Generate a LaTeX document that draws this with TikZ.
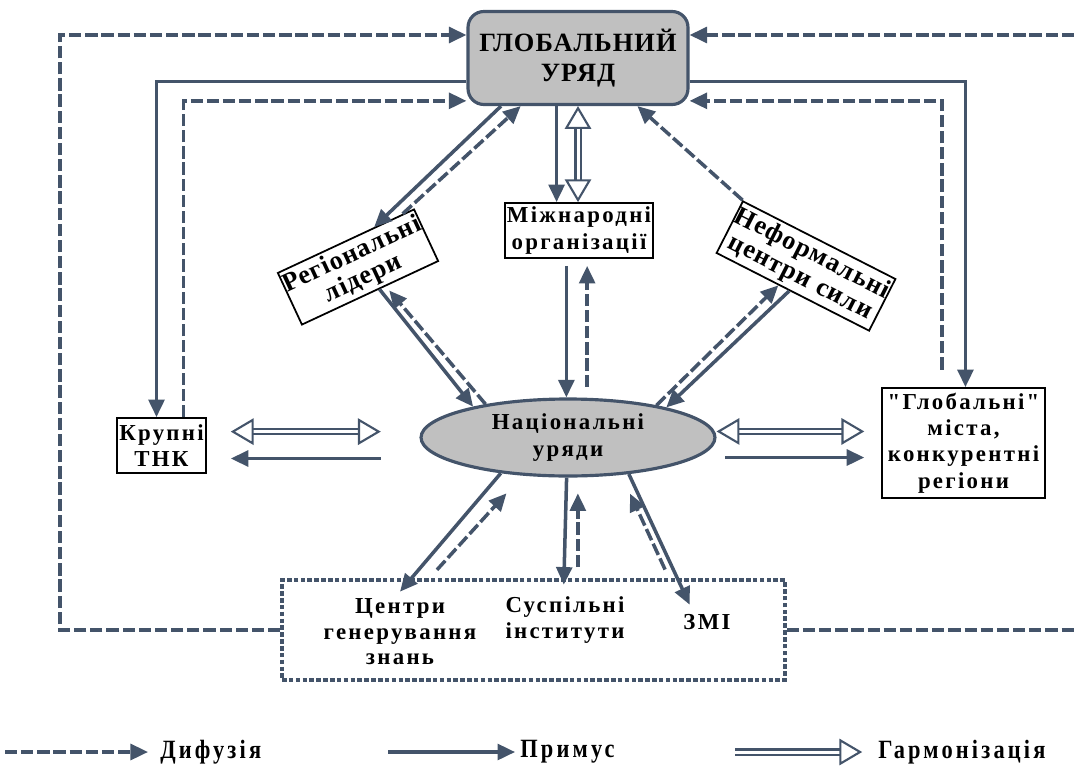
\documentclass[tikz,border=0pt]{standalone}
\usepackage{fontspec}
\setmainfont{Liberation Serif}
\newfontfamily\spacedfont[LetterSpace=10]{Liberation Serif}
\newfontfamily\tightfont[LetterSpace=4]{Liberation Serif}
\newfontfamily\keyfont[FakeStretch=0.85,LetterSpace=12]{Liberation Serif}
\usetikzlibrary{arrows.meta,calc,shapes.geometric}

\definecolor{lineblue}{RGB}{68,84,106}
\definecolor{boxgray}{RGB}{192,192,192}

\tikzset{
  pushtip/.tip={Triangle[length=10pt,width=9pt]},
  harmtip/.tip={Triangle[open,length=13pt,width=15pt]},
  push/.style={draw=lineblue, line width=2pt, -pushtip},
  diff/.style={push, dash pattern=on 7pt off 2.2pt},
  harm/.style={draw=lineblue, double=white, double distance=1.7pt, line width=1.2pt, -harmtip},
  twoway/.style={harmtip-harmtip},
  plainbox/.style={draw=black, line width=1pt, fill=white, align=center, inner sep=0pt,
    font=\spacedfont\bfseries\fontsize{13}{15}\selectfont},
  bigtext/.style={font=\tightfont\bfseries\fontsize{15}{15}\selectfont},
  plaintext/.style={align=center, inner sep=0pt, font=\spacedfont\bfseries\fontsize{13}{14.5}\selectfont},
  keytext/.style={anchor=west, inner sep=0pt, font=\keyfont\bfseries\fontsize{15}{15}\selectfont},
}

\begin{document}
\begin{tikzpicture}[x=0.02cm,y=-0.02cm]
  \useasboundingbox (0,0) rectangle (1074,767);

  % boxes
  \node[draw=lineblue, line width=1.8pt, fill=boxgray, rounded corners=9pt, align=center,
    minimum width=4.4cm, minimum height=1.86cm,
    font=\tightfont\bfseries\fontsize{15}{17}\selectfont] (glob) at (578,58) {ГЛОБАЛЬНИЙ\\УРЯД};
  \node[ellipse, draw=lineblue, line width=1.8pt, fill=boxgray, align=center, inner sep=0pt,
    minimum width=5.88cm, minimum height=1.54cm,
    font=\spacedfont\bfseries\fontsize{13}{15.3}\selectfont] (nat) at (568,437.5) {Національні\\уряди};
  \node[plainbox, minimum width=2.96cm, minimum height=1.1cm] (intl) at (579,230.5) {Міжнародні\\організації};
  \node[plainbox, bigtext, rotate=25, minimum width=2.86cm, minimum height=1.14cm] (reg) at (358,267) {Регіональні\\лідери};
  \node[plainbox, bigtext, rotate=-27, minimum width=3.24cm, minimum height=1.16cm] (inf) at (806,266) {Неформальні\\центри сили};
  \node[plainbox, minimum width=1.78cm, minimum height=1.1cm] (tnk) at (161.5,445.5) {Крупні\\ТНК};
  \node[plainbox, minimum width=3.26cm, minimum height=2.2cm] (city) at (963.5,443) {"Глобальні"\\міста,\\конкурентні\\регіони};

  % lower group
  \node[draw=lineblue, line width=2pt, dash pattern=on 2.6pt off 1.3pt,
    minimum width=10.06cm, minimum height=2cm] (grp) at (533.5,630) {};
  \node[plaintext, minimum width=3.2cm, minimum height=1.6cm] (cent) at (400,632) {Центри\\генерування\\знань};
  \node[plaintext, minimum height=1.4cm] (soc) at (565,620) {Суспільні\\інститути};
  \node[plaintext, minimum width=1.2cm, minimum height=.68cm] (zmi) at (707,622) {ЗМІ};

  % outer loops
  \coordinate (lft) at (60,35);
  \coordinate (rgt) at (1074,35);
  \draw[diff] (grp.west) -| (lft) -- (lft -| glob.west);
  \draw[diff] (rgt) -- (rgt -| glob.east);
  \draw[diff, -] (grp.east) -- (grp.east -| rgt);

  % inner loops
  \draw[push] (glob.192) -| (tnk.100);
  \draw[diff] (tnk.52) |- (glob.201);
  \draw[push] (glob.-12) -| (city.88);
  \draw[diff, shorten <=10pt] (city.111) |- (glob.-21);

  % global -- international
  \draw[push] (glob.246) -- (glob.246 |- intl.north);
  \draw[harm, twoway] (glob.south) -- (glob.south |- intl.north);
  \draw[push, shorten <=4pt] (intl.246) -- (intl.246 |- nat.north);
  \draw[diff, shorten <=6pt, shorten >=4pt] (intl.-74 |- nat.north) -- (intl.-74);

  % regional leaders
  \draw[push] (glob.212) -- (reg.43);
  \draw[diff] (reg.25) -- (glob.220);
  \draw[push] (reg.-71) -- (nat.162);
  \draw[diff, shorten >=3pt] (nat.158) -- (reg.-60);

  % informal centres
  \draw[diff] (inf.north west) -- (glob.-39);
  \draw[push] (inf.263) -- (nat.17);
  \draw[diff] (nat.20) -- (inf.242);

  % side arrows
  \draw[harm, twoway, shorten <=13.6pt, shorten >=22pt] (tnk.17) -- (tnk.17 -| nat.west);
  \draw[push, shorten <=22pt, shorten >=13.6pt] (tnk.-16 -| nat.west) -- (tnk.-16);
  \draw[harm, twoway, shorten >=9.6pt] (city.172 -| nat.east) -- (city.172);
  \draw[push, shorten <=5pt, shorten >=9.6pt] (city.190 -| nat.east) -- (city.190);

  % lower arrows
  \draw[push] (nat.208) -- (cent.north);
  \draw[diff, shorten <=16.8pt, shorten >=13.6pt] (cent.67) -- (nat.220);
  \draw[push] (nat.268) -- (soc.92);
  \draw[diff, shorten <=10pt, shorten >=9pt] (soc.70) -- (soc.70 |- nat.south);
  \draw[push] (nat.-31) -- (zmi.135);
  \draw[diff, shorten <=22pt, shorten >=11.8pt] (zmi.146) -- (nat.-35);

  % legend
  \coordinate (k1) at (5,752);
  \coordinate (k2) at (388,752);
  \coordinate (k3) at (735,752);
  \node[keytext] (ldif) at (160,752) {Дифузія};
  \node[keytext] (lpri) at (520,752) {Примус};
  \node[keytext] (lhar) at (878,752) {Гармонізація};
  \draw[diff, shorten >=6.8pt] (k1) -- (ldif.west);
  \draw[push, shorten >=2.8pt] (k2) -- (lpri.west);
  \draw[harm, shorten >=9pt] (k3) -- (lhar.west);
\end{tikzpicture}
\end{document}
